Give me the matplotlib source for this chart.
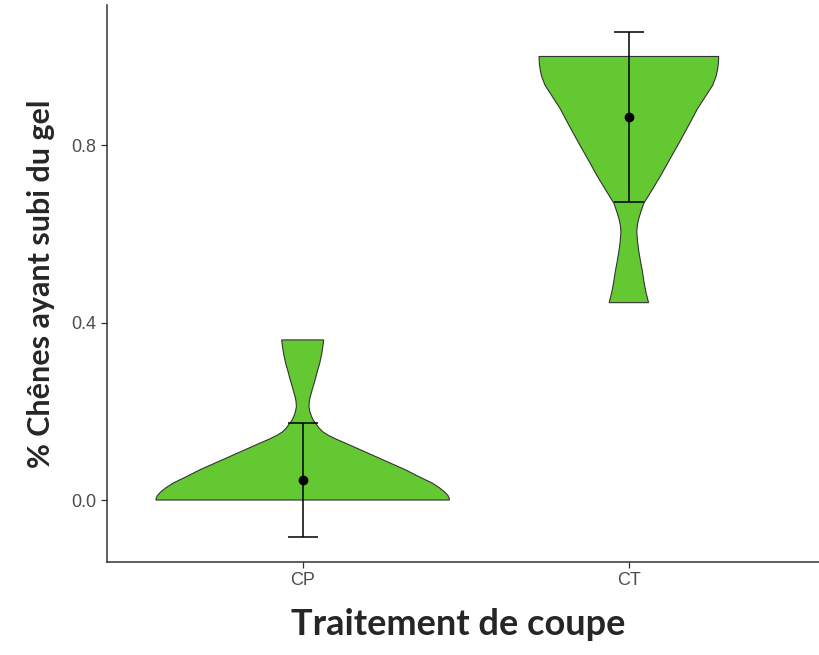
import matplotlib
matplotlib.use("Agg")
import matplotlib.pyplot as plt

# Groups and summary stats (mean +/- error)
groups = ["CP", "CT"]
means = [0.045, 0.863]
err_low = [-0.083, 0.671]
err_high = [0.173, 1.055]

# Violin outlines: y levels and relative density (half-width)
cp_y = [0.000, 0.004, 0.010, 0.018, 0.028, 0.038, 0.052, 0.068, 0.083, 0.098,
        0.113, 0.128, 0.137, 0.145, 0.153, 0.162, 0.173, 0.180, 0.188, 0.198,
        0.210, 0.222, 0.233, 0.250, 0.270, 0.290, 0.308, 0.330, 0.350, 0.361]
cp_d = [1.000, 0.998, 0.990, 0.968, 0.930, 0.884, 0.796, 0.701, 0.599, 0.497,
        0.395, 0.293, 0.230, 0.180, 0.140, 0.112, 0.088, 0.072, 0.061, 0.050,
        0.043, 0.045, 0.052, 0.066, 0.084, 0.100, 0.116, 0.130, 0.139, 0.143]

ct_y = [0.445, 0.469, 0.490, 0.514, 0.537, 0.560, 0.583, 0.605, 0.620, 0.635,
        0.650, 0.669, 0.700, 0.732, 0.770, 0.808, 0.845, 0.883, 0.910, 0.935,
        0.955, 0.970, 0.982, 0.992, 1.000]
ct_d = [0.134, 0.116, 0.104, 0.093, 0.080, 0.068, 0.059, 0.054, 0.058, 0.068,
        0.082, 0.102, 0.160, 0.218, 0.282, 0.347, 0.408, 0.469, 0.522, 0.571,
        0.594, 0.604, 0.609, 0.611, 0.612]

violins = [(cp_y, cp_d), (ct_y, ct_d)]

fill_color = "#64C832"
max_half_width = 0.45

fig = plt.figure(figsize=(8.19, 6.55), dpi=100)
ax = fig.add_axes([0.1306, 0.142, 0.8762, 0.850])

for i, (ys, ds) in enumerate(violins):
    pos = i + 1
    left = [pos - d * max_half_width for d in ds]
    right = [pos + d * max_half_width for d in ds]
    xs = left + right[::-1]
    yy = ys + ys[::-1]
    ax.fill(xs, yy, facecolor=fill_color, edgecolor="#333333", linewidth=0.8, zorder=2)

positions = [i + 1 for i in range(len(groups))]
lower = [m - lo for m, lo in zip(means, err_low)]
upper = [hi - m for m, hi in zip(means, err_high)]
ax.errorbar(positions, means, yerr=[lower, upper], fmt="o", color="black",
            markersize=6, elinewidth=1.1, capsize=11, capthick=1.1, zorder=3)

ax.set_xlim(0.4, 2.6)
ax.set_ylim(-0.1397, 1.1155)
ax.set_xticks(positions)
ax.set_xticklabels(groups)
ax.set_yticks([0.0, 0.4, 0.8])
ax.set_yticklabels(["0.0", "0.4", "0.8"])

for s in ["top", "right"]:
    ax.spines[s].set_visible(False)
for s in ["left", "bottom"]:
    ax.spines[s].set_color("#333333")
    ax.spines[s].set_linewidth(1.1)

ax.tick_params(axis="both", length=4.5, width=0.9, color="#333333",
               labelcolor="#4D4D4D", labelsize=13, pad=3)
for lab in ax.get_xticklabels() + ax.get_yticklabels():
    lab.set_fontfamily("Liberation Sans")

ax.set_xlabel("Traitement de coupe", fontsize=26, fontweight="bold",
              fontfamily="Lato", color="#262626")
ax.xaxis.set_label_coords(0.49, -0.083)
ax.set_ylabel("% Chênes ayant subi du gel", fontsize=22, fontweight="bold",
              fontfamily="Lato", color="#262626", labelpad=12)

fig.savefig("out.png", dpi=100)
